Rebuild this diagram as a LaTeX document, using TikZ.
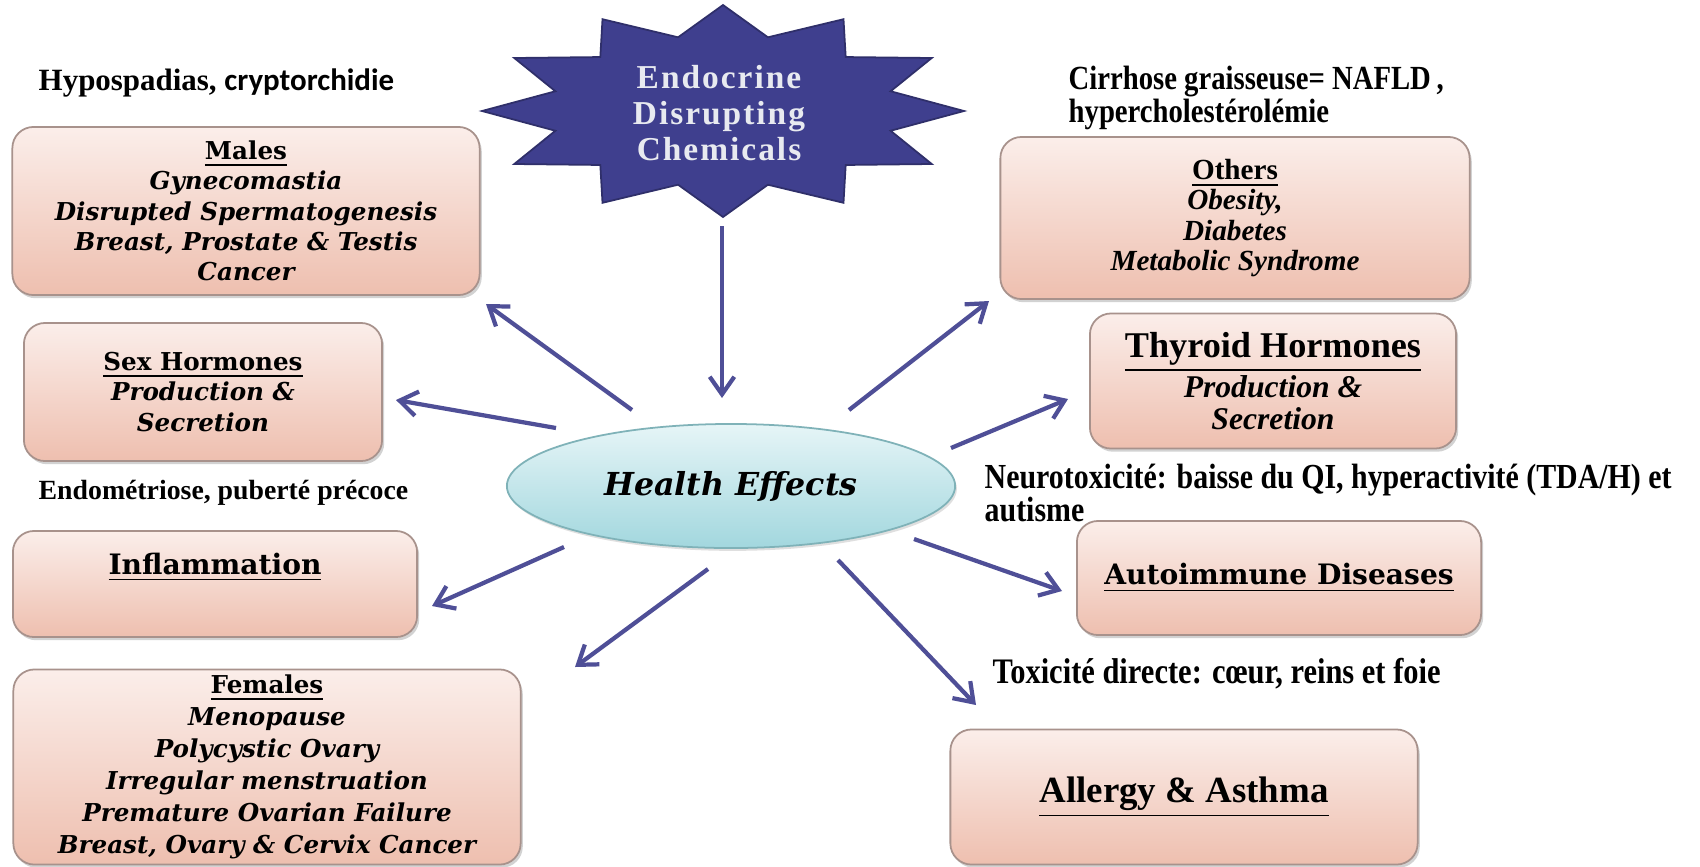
\documentclass[tikz,border=0pt]{standalone}
\usepackage{fontspec}
\setmainfont{Liberation Serif}
\newfontfamily\bkfont{DejaVu Serif}
\newfontfamily\cndfont[FakeStretch=0.85]{Liberation Serif}
\newfontfamily\calfont{Carlito}
\newfontfamily\starfont[LetterSpace=6]{Liberation Serif}
\usetikzlibrary{arrows.meta,shadows,shapes.geometric}

\definecolor{boxtop}{HTML}{FBEEEA}
\definecolor{boxbot}{HTML}{EEBFAF}
\definecolor{boxline}{HTML}{A8928C}
\definecolor{arrowblue}{HTML}{4F4F97}
\definecolor{starblue}{HTML}{3F3F8E}
\definecolor{startext}{HTML}{E8EAF0}
\definecolor{heltop}{HTML}{E6F5F7}
\definecolor{helbot}{HTML}{A2D7DE}
\definecolor{helline}{HTML}{7FB2B8}

\tikzset{
  box/.style={draw=boxline, line width=0.5pt, rounded corners=6pt,
    top color=boxtop, bottom color=boxbot,
    drop shadow={shadow xshift=0.6pt, shadow yshift=-0.9pt, opacity=0.35},
    align=center, inner sep=0pt, text=black},
  bkbody/.style={font=\bkfont\bfseries\itshape\fontsize{7}{8.6}\selectfont},
  bktitle/.style={font=\bkfont\bfseries\fontsize{8}{9}\selectfont},
  tmbody/.style={font=\bfseries\itshape\fontsize{8.3}{8.6}\selectfont},
  note/.style={anchor=west, inner sep=0pt, align=left, text=black},
  arr/.style={draw=arrowblue, line width=1.2pt,
    -{Straight Barb[length=5pt,width=7pt]}},
}

\begin{document}
\begin{tikzpicture}[x=0.01cm, y=-0.01cm]
\fill[white] (0,0) rectangle (1700,866);
\useasboundingbox (0,0) rectangle (1700,866);

% twelve-pointed star behind the title
\path[fill=starblue, draw=starblue!75!black, line width=0.5pt]
  (723,5) \foreach \i in {1,...,23}{
    -- ({723+241*(1-0.28*mod(\i,2))*cos(90+15*\i)},
        {111-106*(1-0.28*mod(\i,2))*sin(90+15*\i)}) } -- cycle;
\node[text=startext, align=center, inner sep=0pt,
      font=\starfont\bfseries\fontsize{9.5}{10.3}\selectfont]
  (edc) at (719,113) {Endocrine\\Disrupting\\Chemicals};

% central ellipse
\node[ellipse, draw=helline, line width=0.5pt, top color=heltop, bottom color=helbot,
      minimum width=4.48cm, minimum height=1.24cm, inner sep=0pt,
      drop shadow={shadow xshift=0.5pt, shadow yshift=-0.8pt, opacity=0.25},
      font=\bkfont\bfseries\itshape\fontsize{9}{10}\selectfont]
  (he) at (731,486) {Health Effects};

% effect boxes, left column
\node[box, bkbody, minimum width=4.67cm, minimum height=1.68cm] (males) at (246,211)
  {{\upshape\underline{Males}}\\Gynecomastia\\Disrupted Spermatogenesis\\Breast, Prostate \& Testis\\Cancer};
\node[box, bkbody, minimum width=3.58cm, minimum height=1.38cm] (sex) at (203,392)
  {{\upshape\underline{Sex Hormones}}\\Production \&\\Secretion};
\node[box, bktitle, minimum width=4.04cm, minimum height=1.06cm] (infl) at (215,584)
  {\underline{Inflammation}\\ \strut};
\node[box, bkbody, font=\bkfont\bfseries\itshape\fontsize{7}{9.1}\selectfont,
      minimum width=5.07cm, minimum height=1.95cm] (fem) at (267,767)
  {{\upshape\underline{Females}}\\Menopause\\Polycystic Ovary\\Irregular menstruation\\Premature Ovarian Failure\\Breast, Ovary \& Cervix Cancer};

% effect boxes, right column
\node[box, tmbody, minimum width=4.69cm, minimum height=1.62cm] (oth) at (1235,218)
  {{\upshape\underline{Others}}\\Obesity,\\Diabetes\\Metabolic Syndrome};
\node[box, font=\bfseries\itshape\fontsize{9}{9}\selectfont,
      minimum width=3.66cm, minimum height=1.35cm] (thy) at (1273,381)
  {{\upshape\fontsize{10.3}{10.3}\selectfont\underline{Thyroid Hormones}}\\Production \&\\Secretion};
\node[box, bktitle, minimum width=4.04cm, minimum height=1.14cm] (auto) at (1279,578)
  {\underline{Autoimmune Diseases}};
\node[box, font=\bfseries\fontsize{10.5}{11}\selectfont,
      minimum width=4.67cm, minimum height=1.35cm] (allergy) at (1184,797)
  {\underline{Allergy \& Asthma}};

% notes
\node[note, font=\fontsize{8.8}{10}\selectfont] (n1) at (38,83)
  {\bfseries Hypospadias, {\calfont\bfseries cryptorchidie}};
\node[note, font=\cndfont\bfseries\fontsize{9.6}{9.4}\selectfont] (n2) at (1068,98)
  {Cirrhose graisseuse= NAFLD\,,\\hypercholestérolémie};
\node[note, font=\bfseries\fontsize{7.9}{10}\selectfont] (n3) at (38,493)
  {Endométriose, puberté précoce};
\node[note, font=\cndfont\bfseries\fontsize{10}{9.4}\selectfont] (n4) at (984,493)
  {Neurotoxicité: baisse du QI, hyperactivité (TDA/H) et\\autisme};
\node[note, font=\cndfont\bfseries\fontsize{10.2}{10}\selectfont] (n5) at (992,674)
  {Toxicité directe: cœur, reins et foie};

% arrow end points
\coordinate (t0) at (722,226);   \coordinate (h0) at (722,398);
\coordinate (t1) at (632,410);   \coordinate (h1) at (486,304);
\coordinate (t2) at (556,428);   \coordinate (h2) at (396,400);
\coordinate (t3) at (564,547);   \coordinate (h3) at (432,606);
\coordinate (t4) at (708,569);   \coordinate (h4) at (575,667);
\coordinate (t5) at (849,410);   \coordinate (h5) at (989,301);
\coordinate (t6) at (951,448);   \coordinate (h6) at (1068,399);
\coordinate (t7) at (914,539);   \coordinate (h7) at (1062,591);
\coordinate (t8) at (838,560);   \coordinate (h8) at (976,705);

\foreach \k in {0,...,8} \draw[arr] (t\k) -- (h\k);
\end{tikzpicture}
\end{document}
